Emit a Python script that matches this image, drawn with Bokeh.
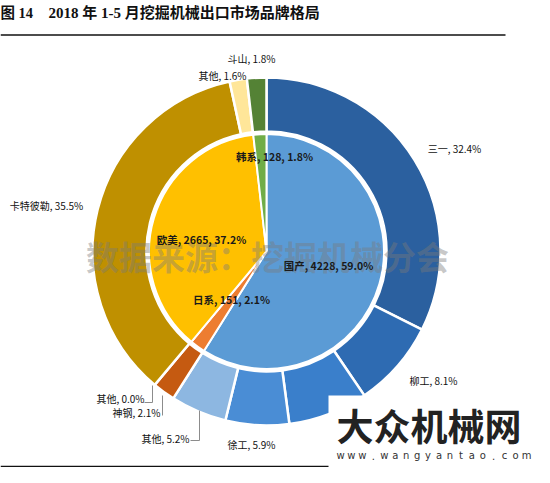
import numpy as np
from bokeh.plotting import figure
from bokeh.models import Range1d, ColumnDataSource
from bokeh.core.properties import value
from bokeh.embed import file_html
from bokeh.resources import INLINE

# ---------------- data ----------------
title_fig = "图 14"
title_text = "2018 年 1-5 月挖掘机械出口市场品牌格局"

inner_names = ["国产", "日系", "欧美", "韩系"]
inner_units = [4228, 151, 2665, 128]
inner_pct = [59.0, 2.1, 37.2, 1.8]

outer_names = ["三一", "柳工", "", "徐工", "其他", "神钢", "其他", "卡特彼勒", "其他", "斗山"]
outer_pct = [32.4, 8.1, 7.4, 5.9, 5.2, 2.1, 0.0, 35.5, 1.6, 1.8]

watermark = "数据来源：挖掘机械分会"
logo_main = "大众机械网"
logo_url = "www.wangyantao.com"

# ---------------- styles / layout ----------------
inner_colors = ["#5B9BD5", "#ED7D31", "#FFC000", "#70AD47"]
outer_colors = ["#2B609F", "#2E6BB2", "#3A7FCB", "#4A8DD5", "#8DB7E1",
                "#C55A11", "#F4B183", "#BF9000", "#FFE699", "#548235"]

W, H = 534, 467


def fx(px):
    return px - 8


def fy(py):
    return 475 - py


CX, CY = fx(274), fy(259)
R_OUT, R_RING_IN, R_PIE = 174, 120, 117.5

# label centres (page pixels)
outer_label_pos = [(462, 156), (441, 388), None, (259, 452), (173, 446),
                   (144, 420), (128, 406), (54, 213), (230, 83), (259, 66)]
inner_label_pos = [(336, 273), (239, 307), (209, 247), (282, 164)]

FONT = value("Noto Sans CJK SC")

p = figure(width=W, height=H, x_range=Range1d(0, W), y_range=Range1d(0, H),
           output_backend="svg", toolbar_location=None, min_border=0,
           x_axis_location=None, y_axis_location=None)
p.grid.visible = False
p.outline_line_color = None
p.background_fill_color = "white"
p.border_fill_color = "white"


def wedge_angles(pcts):
    frac = np.asarray(pcts, dtype=float)
    frac = frac / frac.sum()
    cum = np.concatenate([[0.0], np.cumsum(frac)])
    start = np.pi / 2 - 2 * np.pi * cum[:-1]
    end = np.pi / 2 - 2 * np.pi * cum[1:]
    return start, end


# outer ring
o_start, o_end = wedge_angles(outer_pct)
keep = [i for i, v in enumerate(outer_pct) if v > 0]
src_o = ColumnDataSource(dict(
    start=[o_start[i] for i in keep], end=[o_end[i] for i in keep],
    color=[outer_colors[i] for i in keep]))
p.annular_wedge(x=CX, y=CY, inner_radius=R_RING_IN, outer_radius=R_OUT,
                start_angle="start", end_angle="end", direction="clock",
                fill_color="color", line_color="white", line_width=2.5, source=src_o)

# inner pie
i_start, i_end = wedge_angles(inner_pct)
src_i = ColumnDataSource(dict(start=i_start, end=i_end, color=inner_colors))
p.wedge(x=CX, y=CY, radius=R_PIE, start_angle="start", end_angle="end",
        direction="clock", fill_color="color", line_color="white", line_width=2,
        source=src_i)

# watermark
p.text(x=[fx(275)], y=[fy(263)], text=[watermark], text_font=FONT,
       text_font_size="33px", text_font_style="bold", text_color="#7a7a7a",
       text_alpha=0.42, text_align="center", text_baseline="middle")

# outer labels
ox, oy, ot = [], [], []
for name, v, pos in zip(outer_names, outer_pct, outer_label_pos):
    if pos is None or not name:
        continue
    ox.append(fx(pos[0]))
    oy.append(fy(pos[1]))
    ot.append(f"{name}, {v:.1f}%")
p.text(x=ox, y=oy, text=ot, text_font=FONT, text_font_size="10px",
       text_color="#111111", text_align="center", text_baseline="middle")

# leader lines
p.multi_line(xs=[[fx(198), fx(207), fx(207)], [fx(170), fx(170)],
                 [fx(152), fx(160), fx(160)]],
             ys=[[fy(448), fy(448), fy(418)], [fy(423), fy(403)],
                 [fy(410), fy(410), fy(393)]],
             line_color="#8c8c8c", line_width=1)

# inner labels
ix, iy, it = [], [], []
for name, u, v, pos in zip(inner_names, inner_units, inner_pct, inner_label_pos):
    ix.append(fx(pos[0]))
    iy.append(fy(pos[1]))
    it.append(f"{name}, {u}, {v:.1f}%")
p.text(x=ix, y=iy, text=it, text_font=FONT, text_font_size="10.5px",
       text_font_style="bold", text_color="#1a1a1a", text_align="center",
       text_baseline="middle")

# title
TFONT = value("'Liberation Serif', 'Noto Sans CJK SC'")
p.text(x=[fx(8)], y=[fy(20)], text=[title_fig], text_font=TFONT,
       text_font_size="14.5px", text_font_style="bold", text_color="#111111",
       text_align="left", text_baseline="middle")
p.text(x=[fx(56)], y=[fy(20)], text=[title_text], text_font=TFONT,
       text_font_size="15px", text_font_style="bold", text_color="#111111",
       text_align="left", text_baseline="middle")
p.line(x=[fx(8), fx(513)], y=[fy(42.5), fy(42.5)], line_color="#111111", line_width=1.5)
p.line(x=[fx(8), fx(340)], y=[fy(474), fy(474)], line_color="#111111", line_width=1.5)

# logo box
p.quad(left=[fx(336)], right=[W], bottom=[0], top=[fy(403)], fill_color="white",
       line_color=None)
p.text(x=[fx(344)], y=[fy(432)], text=[logo_main], text_font=FONT,
       text_font_size="37px", text_font_style="bold", text_color="#222222",
       text_align="left", text_baseline="middle")
chars = list(logo_url)
p.text(x=list(np.linspace(fx(348), fx(534), len(chars))), y=[fy(463)] * len(chars),
       text=chars, text_font=value("DejaVu Sans"), text_font_size="10px",
       text_color="#333333", text_align="center", text_baseline="middle")

open("out.html", "w").write(file_html(p, INLINE))
